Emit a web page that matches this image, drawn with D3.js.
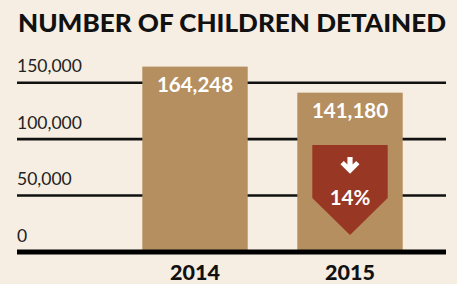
<!DOCTYPE html>
<html>
<head>
<meta charset="utf-8">
<script src="https://cdn.jsdelivr.net/npm/d3@7"></script>
<style>
  html, body { margin: 0; padding: 0; background: #f6eee2; }
  svg { display: block; font-family: Lato, "Open Sans", sans-serif; }
</style>
</head>
<body>
<div id="chart"></div>
<script>
const years = ["2014", "2015"];
const detained = [164248, 141180];
const yTicks = [0, 50000, 100000, 150000];

const width = 457;
const height = 284;
const barColor = "#b58f5f";
const dropColor = "#983824";

const svg = d3.select("#chart")
    .append("svg")
    .attr("width", width)
    .attr("height", height);

svg.append("rect")
    .attr("width", width)
    .attr("height", height)
    .attr("fill", "#f6eee2");

svg.append("text")
    .attr("x", 18)
    .attr("y", 32)
    .attr("textLength", 428)
    .attr("lengthAdjust", "spacingAndGlyphs")
    .style("font-size", "24.5px")
    .style("font-weight", 900)
    .attr("fill", "#111")
    .text("NUMBER OF CHILDREN DETAINED");

const x = d3.scaleBand()
    .domain(years)
    .range([117.5, 427.5])
    .paddingInner(0.32)
    .paddingOuter(0.16);

const y = d3.scaleLinear()
    .domain([0, 150000])
    .range([252, 82.7]);

// grid lines + labels
const grid = svg.append("g");
grid.selectAll("line")
    .data(yTicks.filter(d => d > 0))
    .enter()
    .append("line")
    .attr("x1", 17)
    .attr("x2", 446)
    .attr("y1", d => y(d))
    .attr("y2", d => y(d))
    .attr("stroke", "#111")
    .attr("stroke-width", 2.6);

grid.selectAll("text")
    .data(yTicks)
    .enter()
    .append("text")
    .attr("x", 17)
    .attr("y", d => y(d) - 10.5)
    .style("font-size", "17.5px")
    .attr("fill", "#222")
    .text(d => d3.format(",")(d));

// bars
const data = years.map((yr, i) => ({ year: yr, value: detained[i] }));

svg.selectAll(".bar")
    .data(data)
    .enter()
    .append("rect")
    .attr("class", "bar")
    .attr("x", d => x(d.year))
    .attr("width", x.bandwidth())
    .attr("y", d => y(d.value))
    .attr("height", d => y(0) - y(d.value))
    .attr("fill", barColor);

svg.selectAll(".val")
    .data(data)
    .enter()
    .append("text")
    .attr("class", "val")
    .attr("x", d => x(d.year) + x.bandwidth() / 2)
    .attr("y", d => y(d.value) + 25)
    .attr("text-anchor", "middle")
    .style("font-size", "20.5px")
    .style("font-weight", 700)
    .attr("fill", "#fff")
    .text(d => d3.format(",")(d.value));

// baseline
svg.append("line")
    .attr("x1", 17)
    .attr("x2", 446)
    .attr("y1", y(0))
    .attr("y2", y(0))
    .attr("stroke", "#000")
    .attr("stroke-width", 5);

svg.selectAll(".year")
    .data(data)
    .enter()
    .append("text")
    .attr("class", "year")
    .attr("x", d => x(d.year) + x.bandwidth() / 2)
    .attr("y", 280)
    .attr("text-anchor", "middle")
    .style("font-size", "21.5px")
    .style("font-weight", 900)
    .attr("fill", "#111")
    .text(d => d.year);

// change badge on the 2015 bar, hung from the baseline
const last = data[1];
const change = (detained[0] - detained[1]) / detained[0];
const bx = x(last.year) + 15;
const bw = x.bandwidth() - 30;
const by = y(0) - 17 - 90;
const badge = svg.append("g");

badge.append("path")
    .attr("d", `M${bx},${by}H${bx + bw}V${by + 53}L${bx + bw / 2},${by + 90}L${bx},${by + 53}Z`)
    .attr("fill", dropColor);

const ax = bx + bw / 2;
const ay = by + 12;
badge.append("path")
    .attr("d", `M${ax - 2.6},${ay}h5.2v7.5l3.6,-3.6l3.3,3.3l-9.5,9.5l-9.5,-9.5l3.3,-3.3l3.6,3.6Z`)
    .attr("fill", "#fff");

badge.append("text")
    .attr("x", ax)
    .attr("y", by + 60)
    .attr("text-anchor", "middle")
    .style("font-size", "20.5px")
    .style("font-weight", 700)
    .attr("fill", "#fff")
    .text(`${Math.round(change * 100)}%`);
</script>
</body>
</html>
